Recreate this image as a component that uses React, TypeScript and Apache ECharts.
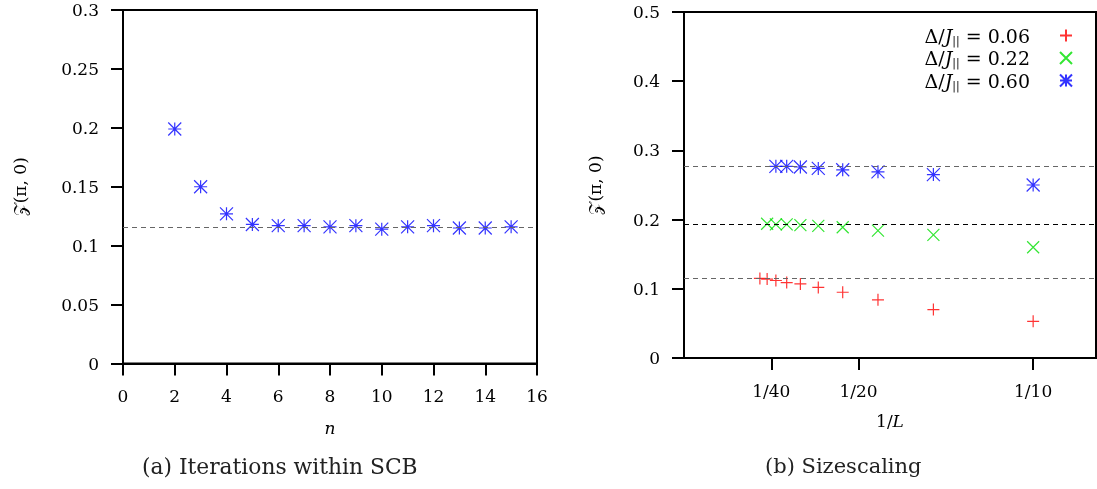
import React, { useEffect, useRef } from "react";
import * as echarts from "echarts";

// Panel (a): iterations within SCB
const iterN = [2, 3, 4, 5, 6, 7, 8, 9, 10, 11, 12, 13, 14, 15];
const iterZ = [0.199, 0.150, 0.127, 0.118, 0.117, 0.117, 0.116, 0.117, 0.114, 0.116, 0.117, 0.115, 0.115, 0.116];
const iterRef = 0.1153;

// Panel (b): size scaling
const redL = [46, 42, 38, 34, 30, 26, 22, 18, 14, 10];
const redZ = [0.115, 0.114, 0.112, 0.109, 0.107, 0.102, 0.095, 0.084, 0.070, 0.053];
const greenL = [42, 38, 34, 30, 26, 22, 18, 14, 10];
const greenZ = [0.194, 0.193, 0.193, 0.192, 0.191, 0.189, 0.184, 0.178, 0.160];
const blueL = [38, 34, 30, 26, 22, 18, 14, 10];
const blueZ = [0.277, 0.277, 0.276, 0.274, 0.272, 0.269, 0.265, 0.250];
const sizeRefs = [0.115, 0.1935, 0.277];
const seriesNames = ["0.06", "0.22", "0.60"];

const xTickValues = [1 / 40, 1 / 20, 1 / 10];
const xTickLabels = ["1/40", "1/20", "1/10"];

const FONT = "'DejaVu Serif', 'Liberation Serif', serif";

const PLUS = "path://M0,5L10,5M5,0L5,10";
const CROSS = "path://M0,0L10,10M0,10L10,0";
const STAR = "path://M0,5L10,5M5,0L5,10M0,0L10,10M0,10L10,0";

function markerStyle(color: string) {
  return { color: "transparent", borderColor: color, borderWidth: 1.2 };
}

export default function App() {
  const ref = useRef<HTMLDivElement>(null);
  useEffect(() => {
    document.body.style.margin = "0";
    const chart = echarts.init(ref.current!, null, { renderer: "svg" });
    const axisCommon = {
      axisLine: { onZero: false, lineStyle: { color: "#000", width: 2 } },
      axisTick: { inside: false, length: 12, lineStyle: { color: "#000", width: 2 } },
      splitLine: { show: false },
      axisLabel: { color: "#000", fontFamily: FONT, fontSize: 17, margin: 24 },
      nameTextStyle: { color: "#000", fontFamily: FONT, fontSize: 17 },
    };
    const fmt = (v: number) => String(+v.toFixed(2));
    const dashLine = (vals: number[], colors: string[]) => ({
      silent: true,
      symbol: "none",
      precision: 5,
      label: { show: false },
      data: vals.map((v, i) => ({ yAxis: v, lineStyle: { color: colors[i], type: [5, 4], width: 1.2 } })),
    });
    const nameRich = {
      t: { fontFamily: FONT, fontSize: 17, color: "#000" },
      it: { fontFamily: FONT, fontSize: 17, fontStyle: "italic", color: "#000" },
    };
    const legendRich = {
      t: { fontFamily: FONT, fontSize: 19, color: "#000" },
      it: { fontFamily: FONT, fontSize: 19, fontStyle: "italic", color: "#000" },
      sub: { fontFamily: FONT, fontSize: 11, color: "#000", padding: [9, 0, 0, 0] },
      pad: { width: 25 },
    };
    chart.setOption({
      animation: false,
      grid: [
        { left: 123, top: 10, width: 414, height: 353.5, show: true, borderColor: "#000", borderWidth: 2 },
        { left: 684, top: 12, width: 412, height: 346, show: true, borderColor: "#000", borderWidth: 2 },
      ],
      xAxis: [
        {
          ...axisCommon,
          gridIndex: 0,
          type: "value",
          min: 0,
          max: 16,
          interval: 2,
          name: "n",
          nameLocation: "middle",
          nameGap: 56,
          nameTextStyle: { ...axisCommon.nameTextStyle, fontStyle: "italic" },
        },
        {
          ...axisCommon,
          gridIndex: 1,
          type: "value",
          min: 0,
          max: 0.118,
          axisTick: { ...axisCommon.axisTick, customValues: xTickValues },
          axisLabel: {
            ...axisCommon.axisLabel,
            customValues: xTickValues,
            formatter: (v: number) => {
              const i = xTickValues.findIndex((t) => Math.abs(t - v) < 1e-9);
              return i >= 0 ? xTickLabels[i] : "";
            },
          },
          name: "{t|1/}{it|L}",
          nameLocation: "middle",
          nameGap: 54,
          nameTextStyle: { ...axisCommon.nameTextStyle, rich: nameRich },
        },
      ],
      yAxis: [
        {
          ...axisCommon,
          gridIndex: 0,
          type: "value",
          min: 0,
          max: 0.3,
          interval: 0.05,
          axisLabel: { ...axisCommon.axisLabel, formatter: fmt },
          name: "𝒵(π, 0)",
          nameLocation: "middle",
          nameGap: 95,
        },
        {
          ...axisCommon,
          gridIndex: 1,
          type: "value",
          min: 0,
          max: 0.5,
          interval: 0.1,
          axisLabel: { ...axisCommon.axisLabel, formatter: fmt },
          name: "𝒵(π, 0)",
          nameLocation: "middle",
          nameGap: 81,
        },
      ],
      legend: {
        data: seriesNames,
        orient: "vertical",
        right: 19,
        top: 21,
        align: "right",
        itemWidth: 12,
        itemHeight: 12,
        itemGap: 3,
        formatter: (name: string) => `{t|Δ/}{it|J}{sub|||}{t| = ${name}}{pad|}`,
        textStyle: { rich: legendRich },
      },
      series: [
        {
          type: "scatter",
          name: "iter",
          xAxisIndex: 0,
          yAxisIndex: 0,
          symbol: STAR,
          symbolSize: 13,
          itemStyle: markerStyle("#0000ff"),
          data: iterN.map((n, i) => [n, iterZ[i]]),
          markLine: dashLine([iterRef], ["#666"]),
        },
        {
          type: "scatter",
          name: seriesNames[0],
          xAxisIndex: 1,
          yAxisIndex: 1,
          symbol: PLUS,
          symbolSize: 12,
          itemStyle: markerStyle("#ff0000"),
          data: redL.map((L, i) => [1 / L, redZ[i]]),
          markLine: dashLine(sizeRefs, ["#666", "#000", "#666"]),
        },
        {
          type: "scatter",
          name: seriesNames[1],
          xAxisIndex: 1,
          yAxisIndex: 1,
          symbol: CROSS,
          symbolSize: 12,
          itemStyle: markerStyle("#00e000"),
          data: greenL.map((L, i) => [1 / L, greenZ[i]]),
        },
        {
          type: "scatter",
          name: seriesNames[2],
          xAxisIndex: 1,
          yAxisIndex: 1,
          symbol: STAR,
          symbolSize: 13,
          itemStyle: markerStyle("#0000ff"),
          data: blueL.map((L, i) => [1 / L, blueZ[i]]),
        },
      ],
      graphic: [
        {
          type: "text",
          left: 142,
          top: 455,
          style: { text: "(a) Iterations within SCB", font: `21.8px ${FONT}`, fill: "#222" },
        },
        {
          type: "text",
          left: 765,
          top: 455,
          style: { text: "(b) Sizescaling", font: `21px ${FONT}`, fill: "#222" },
        },
      ],
    });
    return () => chart.dispose();
  }, []);
  return <div ref={ref} style={{ position: "fixed", left: 0, top: 0, width: 1097, height: 489 }} />;
}
